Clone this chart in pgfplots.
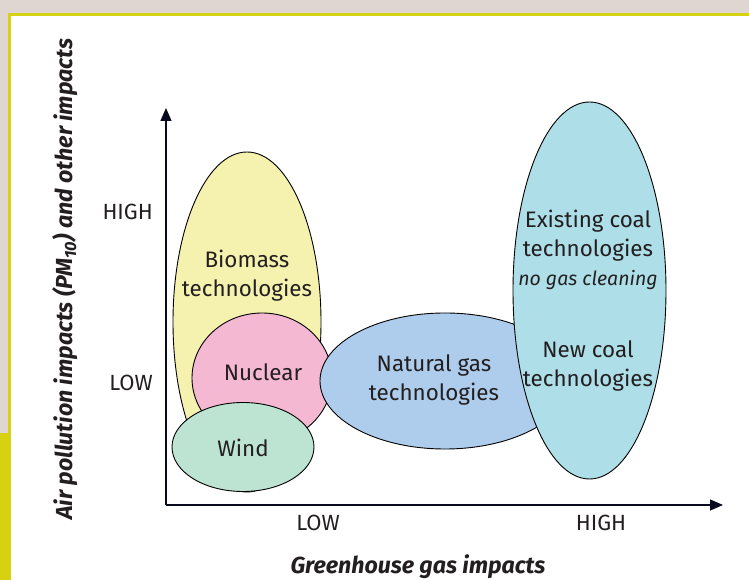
\documentclass[border=0pt]{standalone}
\usepackage{pgfplots}
\pgfplotsset{compat=1.18}
\usetikzlibrary{arrows.meta}
\usepackage{fontspec}
\setmainfont{Fira Sans}
\definecolor{bgbeige}{HTML}{E0D6D1}
\definecolor{frameyel}{HTML}{D6D111}
\definecolor{biomass}{HTML}{F5F2B0}
\definecolor{nuclear}{HTML}{F5B8D3}
\definecolor{gas}{HTML}{AECDEC}
\definecolor{coal}{HTML}{AEDFE8}
\definecolor{wind}{HTML}{BDE3D3}
\definecolor{txt}{HTML}{231F20}
\definecolor{axisc}{HTML}{0A0A1E}
\begin{document}
\begin{tikzpicture}[x=1pt,y=1pt]
% pixel (px,py) -> (px-166, 505-py)
\useasboundingbox (-166,-75) rectangle (583,505);
\clip (-166,-75) rectangle (583,505);
\fill[bgbeige] (-166,-75) rectangle (583,505);
\fill[white] (-156.5,-80) rectangle (590,490.5);
\draw[frameyel, line width=3pt] (-156.5,-80) -- (-156.5,490.5) -- (590,490.5);
\fill[frameyel] (-166,-80) rectangle (-155,72);
\begin{axis}[
  at={(0,0)}, anchor=south west,
  width=557pt, height=397pt, scale only axis,
  xmin=0, xmax=557, ymin=0, ymax=397,
  clip=false,
  axis lines=left,
  every outer x axis line/.append style={-{Triangle[length=13pt,width=11pt]}},
  every outer y axis line/.append style={-{Triangle[length=13pt,width=11pt]}},
  axis line style={line width=1.3pt, color=axisc},
  xtick={152,435}, xticklabels={LOW,HIGH},
  ytick={122,293}, yticklabels={LOW,HIGH},
  major tick length=0pt,
  tick label style={font=\fontsize{22}{25}\selectfont, text=txt},
  xticklabel style={inner sep=0pt, anchor=north, yshift=-10pt},
  yticklabel style={inner sep=0pt, anchor=east, xshift=-13pt},
  xlabel={\bfseries\itshape Greenhouse gas impacts},
  ylabel={\bfseries\itshape Air pollution impacts (PM\textsubscript{10}) and other impacts},
  every axis x label/.style={at={(axis description cs:0.4524,-0.1560)}, anchor=center, font=\fontsize{23.2}{25}\selectfont, text=txt},
  every axis y label/.style={at={(axis description cs:-0.1813,0.5693)}, rotate=90, anchor=center, font=\fontsize{23.2}{25}\selectfont, text=txt},
]
\draw[fill=biomass, line width=0.9pt] (axis cs:81,183) ellipse [x radius=74, y radius=170];
\draw[fill=nuclear, line width=0.9pt] (axis cs:96,127) ellipse [x radius=70, y radius=65];
\draw[fill=gas, line width=0.9pt] (axis cs:279,124) ellipse [x radius=125, y radius=68];
\draw[fill=wind, line width=0.9pt] (axis cs:77,58) ellipse [x radius=71, y radius=44.5];
\draw[fill=coal, line width=0.9pt] (axis cs:423.5,214.5) ellipse [x radius=76.5, y radius=188.5];
\begin{scope}[every node/.style={align=center, text=txt, font=\fontsize{22.4}{29}\selectfont, inner sep=0pt}]
\node at (axis cs:81,229) {Biomass\\technologies};
\node at (axis cs:97,133) {Nuclear};
\node at (axis cs:77,57) {Wind};
\node at (axis cs:268,125) {Natural gas\\technologies};
\node at (axis cs:422,255) {Existing coal\\technologies\\{\fontsize{19.5}{27}\selectfont\itshape no gas cleaning}};
\node at (axis cs:422,139) {New coal\\technologies};
\end{scope}
\end{axis}
\end{tikzpicture}
\end{document}
